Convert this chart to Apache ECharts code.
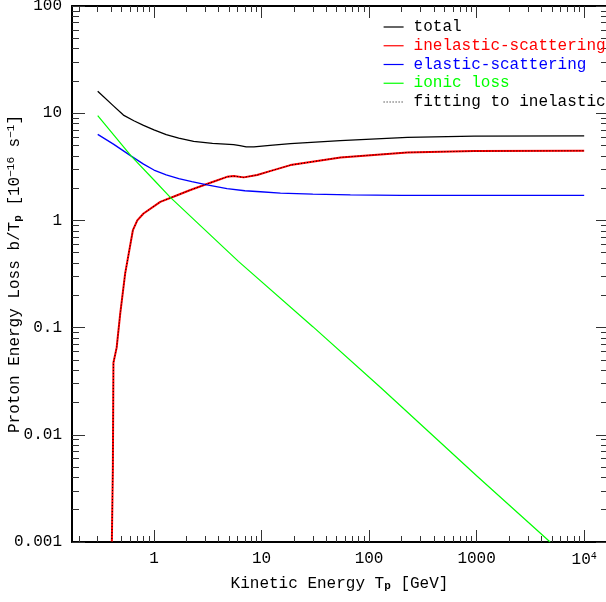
<!DOCTYPE html>
<html>
<head>
<meta charset="utf-8">
<script src="https://cdn.jsdelivr.net/npm/echarts@6/dist/echarts.min.js"></script>
<style>
  html, body { margin: 0; padding: 0; background: #fff; }
  #chart { width: 606px; height: 602px; }
</style>
</head>
<body>
<div id="chart"></div>
<script>
// Kinetic energy T_p [GeV] and loss rate b/T_p [1e-16 s^-1] for each process
const totalT = [0.3, 0.42, 0.52, 0.65, 0.8, 1.0, 1.3, 1.7, 2.34, 3.5, 5.5, 6.3, 7.2, 8.5, 12, 18.6, 54, 227, 946, 10000];
const totalLoss = [16.0, 11.7, 9.6, 8.5, 7.7, 7.0, 6.3, 5.85, 5.45, 5.22, 5.1, 4.98, 4.85, 4.85, 5.0, 5.2, 5.55, 5.95, 6.12, 6.15];

const inelasticT = [0.406, 0.415, 0.42, 0.45, 0.486, 0.54, 0.637, 0.7, 0.8, 1.145, 1.6, 2.18, 3.5, 4.78, 5.51, 6.83, 9.1, 12, 18.6, 54.3, 227, 946, 10000];
const inelasticLoss = [0.001, 0.005, 0.047, 0.065, 0.1355, 0.32, 0.81, 1.0, 1.16, 1.49, 1.7, 1.92, 2.28, 2.55, 2.59, 2.52, 2.65, 2.88, 3.28, 3.87, 4.31, 4.43, 4.46];

const elasticT = [0.3, 0.42, 0.615, 0.8, 1.0, 1.3, 1.7, 2.25, 3.2, 4.78, 7, 9.77, 15, 30, 67, 200, 10000];
const elasticLoss = [6.35, 5.15, 3.98, 3.35, 2.95, 2.66, 2.45, 2.3, 2.13, 1.98, 1.89, 1.85, 1.8, 1.76, 1.73, 1.71, 1.71];

const ionicT = [0.3, 0.615, 1.0, 1.42, 6.1, 30, 128, 1000, 4825];
const ionicLoss = [9.5, 3.98, 2.38, 1.64, 0.415, 0.102, 0.0276, 0.00415, 0.001];

// parametric fit to the inelastic term (coincides with it over the whole range)
const fitT = [0.406, 0.415, 0.42, 0.45, 0.486, 0.54, 0.637, 0.7, 0.8, 1.145, 1.6, 2.18, 3.5, 4.78, 5.51, 6.83, 9.1, 12, 18.6, 54.3, 227, 946, 10000];
const fitLoss = [0.001, 0.005, 0.047, 0.065, 0.1355, 0.32, 0.81, 1.0, 1.16, 1.49, 1.7, 1.92, 2.28, 2.55, 2.59, 2.52, 2.65, 2.88, 3.28, 3.87, 4.31, 4.43, 4.46];

const seriesNames = ['total', 'inelastic-scattering', 'elastic-scattering', 'ionic loss', 'fitting to inelastic'];
const seriesColors = ['#000000', '#ff0000', '#0000ff', '#00ff00', '#000000'];

// axis ranges and tick labels
const X_MIN = 0.173, X_MAX = 16300;
const Y_MIN = 0.001, Y_MAX = 100;
const xMajorTicks = [1, 10, 100, 1000, 10000];
const yMajorTicks = [0.001, 0.01, 0.1, 1, 10, 100];

// 2..9 x 10^e minor tick positions of a log axis
function decadeSteps(e0, e1, lo, hi) {
  const out = [];
  for (let e = e0; e <= e1; e++) {
    for (let m = 2; m <= 9; m++) {
      const v = +(m * Math.pow(10, e)).toPrecision(6);
      if (v > lo && v < hi) out.push(v);
    }
  }
  return out;
}
const xMinorTicks = decadeSteps(-1, 4, X_MIN, X_MAX);
const yMinorTicks = decadeSteps(-3, 1, Y_MIN, Y_MAX);

const FONT = 'Liberation Mono';
const TICK_COLOR = '#333';

function pairs(xs, ys) { return xs.map((x, i) => [x, ys[i]]); }

function xLabel(v) {
  const e = Math.round(Math.log10(v));
  return e >= 4 ? '10{sup|' + e + '}' : String(Math.round(v));
}
function yLabel(v) {
  const e = Math.round(Math.log10(v));
  return e >= 0 ? String(Math.round(v)) : v.toFixed(-e);
}

function logAxis(kind, position, ticks, tickLen, opts) {
  const ax = {
    type: 'log',
    position: position,
    min: kind === 'x' ? X_MIN : Y_MIN,
    max: kind === 'x' ? X_MAX : Y_MAX,
    axisLine: { show: !!opts.line, onZero: false, lineStyle: { color: '#000', width: 2 } },
    axisTick: { show: true, inside: true, length: tickLen, customValues: ticks,
                lineStyle: { color: TICK_COLOR, width: 1 } },
    axisLabel: { show: false },
    splitLine: { show: false },
    minorTick: { show: false },
    splitArea: { show: false }
  };
  return Object.assign(ax, opts.extra || {});
}

function curve(idx, xs, ys, width, extra) {
  return Object.assign({
    name: seriesNames[idx], type: 'line', data: pairs(xs, ys),
    symbol: 'none', showSymbol: false,
    lineStyle: { color: seriesColors[idx], width: width },
    itemStyle: { color: seriesColors[idx] },
    z: 2
  }, extra || {});
}

const chart = echarts.init(document.getElementById('chart'), null, { renderer: 'canvas' });

const option = {
  animation: false,
  backgroundColor: '#fff',
  grid: { left: 72, right: -1, top: 6, bottom: 60, containLabel: false, outerBoundsMode: 'none' },
  legend: {
    orient: 'vertical',
    left: 378,
    top: 14,
    itemWidth: 20,
    itemHeight: 14,
    itemGap: 2.75,
    itemStyle: { opacity: 0 },
    lineStyle: { width: 1.2 },
    textStyle: { fontFamily: FONT, fontSize: 16, lineHeight: 16, padding: [0, 0, 0, 5] },
    data: seriesNames.map((n, i) => ({ name: n, textStyle: { color: seriesColors[i] } }))
  },
  xAxis: [
    logAxis('x', 'bottom', xMajorTicks, 12, { line: true, extra: {
      axisLabel: {
        show: true, customValues: xMajorTicks, formatter: xLabel, margin: 9,
        fontFamily: FONT, fontSize: 16, color: '#000',
        rich: { sup: { fontFamily: FONT, fontSize: 10, verticalAlign: 'top', padding: [0, 0, 8, 0], color: '#000' } }
      },
      name: 'Kinetic Energy T{sub|p} [GeV]',
      nameLocation: 'middle',
      nameGap: 33,
      nameMoveOverlap: false,
      nameTextStyle: {
        fontFamily: FONT, fontSize: 16, color: '#000',
        rich: { sub: { fontFamily: FONT, fontSize: 11, fontWeight: 'bold', verticalAlign: 'bottom', padding: [6, 0, 0, 0], color: '#000' } }
      }
    } }),
    logAxis('x', 'bottom', xMinorTicks, 6, { line: false }),
    logAxis('x', 'top', xMajorTicks, 12, { line: true }),
    logAxis('x', 'top', xMinorTicks, 6, { line: false })
  ],
  yAxis: [
    logAxis('y', 'left', yMajorTicks, 13, { line: true, extra: {
      axisLabel: {
        show: true, customValues: yMajorTicks, formatter: yLabel, margin: 10,
        fontFamily: FONT, fontSize: 16, color: '#000'
      },
      name: 'Proton Energy Loss b/T{sub|p} [10{sup|−16} s{sup|−1}]',
      nameLocation: 'middle',
      nameGap: 48,
      nameMoveOverlap: false,
      nameTextStyle: {
        fontFamily: FONT, fontSize: 16, color: '#000',
        rich: {
          sub: { fontFamily: FONT, fontSize: 11, fontWeight: 'bold', verticalAlign: 'bottom', padding: [6, 0, 0, 0], color: '#000' },
          sup: { fontFamily: FONT, fontSize: 11, verticalAlign: 'top', padding: [0, 0, 7, 0], color: '#000' }
        }
      }
    } }),
    logAxis('y', 'left', yMinorTicks, 7, { line: false }),
    logAxis('y', 'right', yMajorTicks, 11, { line: true }),
    logAxis('y', 'right', yMinorTicks, 6, { line: false })
  ],
  series: [
    curve(0, totalT, totalLoss, 1.3, { z: 3 }),
    curve(1, inelasticT, inelasticLoss, 2),
    curve(2, elasticT, elasticLoss, 1.3),
    curve(3, ionicT, ionicLoss, 1.2),
    curve(4, fitT, fitLoss, 1, { z: 4,
      lineStyle: { color: seriesColors[4], width: 1, type: [1, 2] } })
  ]
};

chart.setOption(option);
</script>
</body>
</html>
